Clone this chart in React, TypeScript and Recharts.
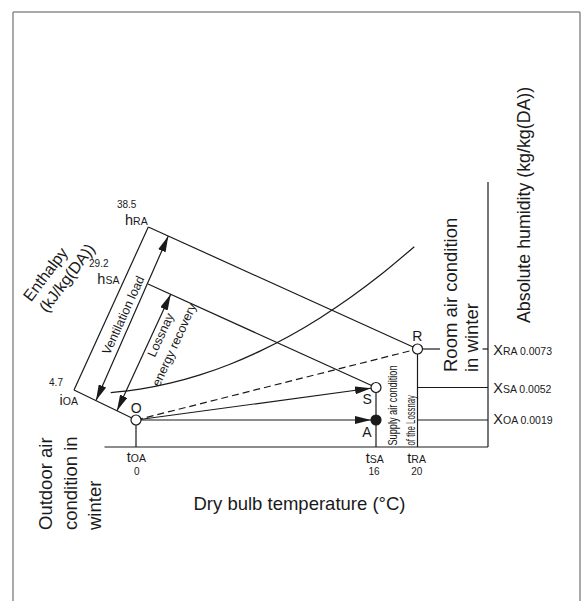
import React from 'react';
import { ComposedChart, XAxis, YAxis, ReferenceLine, Line, Scatter } from 'recharts';

// ---- value labels ----
const temperatureTicks = ['0', '16', '20'];
const temperatureSubs = ['OA', 'SA', 'RA'];
const humiditySubs = ['RA', 'SA', 'OA'];
const humidityValues = ['0.0073', '0.0052', '0.0019'];
const enthalpySubs = ['RA', 'SA', 'OA'];
const enthalpyValues = ['38.5', '29.2', '4.7'];

// ---- schematic positions (diagram grid units, y grows downward) ----
const W = 581;
const H = 601;
const stateNames = ['O', 'S', 'A', 'R'];
const stateXs = [136, 376, 376, 417.5];
const stateYs = [420, 387.5, 420, 349];
const stateFilled = [false, false, true, false];
const pt = (n: string) => {
  const i = stateNames.indexOf(n);
  return { x: stateXs[i], y: stateYs[i] };
};
const O = pt('O');
const S = pt('S');
const A = pt('A');
const R = pt('R');

const baseY = 447;
const baseLeft = 104.5;
const axisX = 488;
const axisTop = 182;
const iOAEnd = { x: 74, y: 390 };
const hRAEnd = { x: 148.3, y: 227 };
const hSAEnd = { x: 148, y: 284 };
const xraGap = [440, 482.5];
const frame = { left: 13, right: 580, top: 12, bottom: 601 };

// saturation curve (schematic)
const curveX = [110.7, 140, 170, 200, 230, 260, 290, 320, 350, 380, 414.3];
const curveY = [392.7, 389.2, 383.2, 374.9, 364.2, 351.1, 335.7, 317.9, 297.8, 275.3, 246.7];
const curve = curveX.map((x, i) => ({ x, y: curveY[i] }));

type Pt = { x: number; y: number };
const frameSegments: [Pt, Pt][] = [
  [{ x: frame.left, y: frame.top }, { x: frame.right, y: frame.top }],
  [{ x: frame.left, y: frame.top }, { x: frame.left, y: frame.bottom }],
  [{ x: frame.right, y: frame.top }, { x: frame.right, y: frame.bottom }],
];
const solidSegments: [Pt, Pt][] = [
  [{ x: baseLeft, y: baseY }, { x: axisX, y: baseY }],
  [{ x: axisX, y: axisTop }, { x: axisX, y: baseY }],
  [O, { x: O.x, y: baseY }],
  [S, { x: S.x, y: baseY }],
  [R, { x: R.x, y: baseY }],
  [{ x: R.x, y: S.y }, { x: axisX, y: S.y }],
  [{ x: R.x, y: A.y }, { x: axisX, y: A.y }],
  [R, { x: xraGap[0], y: R.y }],
  [{ x: xraGap[1], y: R.y }, { x: axisX, y: R.y }],
  [iOAEnd, hRAEnd],
  [hRAEnd, R],
  [hSAEnd, S],
  [iOAEnd, O],
];
const toDotArrows: [Pt, Pt][] = [
  [O, A],
  [O, S],
];
const doubleArrows: [Pt, Pt][] = [
  [{ x: 96, y: 400.6 }, { x: 168.3, y: 236.1 }],
  [{ x: 117, y: 410.8 }, { x: 170.7, y: 294.3 }],
];
const dashedSegments: [Pt, Pt][] = [[O, R]];

const labels = [
  { kind: 'num', x: 126.7, y: 208.3, text: enthalpyValues[0] },
  { kind: 'sym', x: 125, y: 225, main: 'h', sub: enthalpySubs[0] },
  { kind: 'num', x: 98.8, y: 267.3, text: enthalpyValues[1] },
  { kind: 'sym', x: 97.3, y: 283.5, main: 'h', sub: enthalpySubs[1] },
  { kind: 'num', x: 56, y: 386, text: enthalpyValues[2] },
  { kind: 'sym', x: 59.5, y: 405, main: 'i', sub: enthalpySubs[2] },
  { kind: 'sym', x: 126.7, y: 461.7, main: 't', sub: temperatureSubs[0] },
  { kind: 'num', x: 136.7, y: 475, text: temperatureTicks[0] },
  { kind: 'sym', x: 365.7, y: 462.7, main: 't', sub: temperatureSubs[1] },
  { kind: 'num', x: 374, y: 475, text: temperatureTicks[1] },
  { kind: 'sym', x: 407.3, y: 462.7, main: 't', sub: temperatureSubs[2] },
  { kind: 'num', x: 416.7, y: 475, text: temperatureTicks[2] },
  { kind: 'sym', x: 493.3, y: 355, main: 'X', sub: humiditySubs[0] + ' ' + humidityValues[0] },
  { kind: 'sym', x: 493.3, y: 393.3, main: 'X', sub: humiditySubs[1] + ' ' + humidityValues[1] },
  { kind: 'sym', x: 493.3, y: 424.3, main: 'X', sub: humiditySubs[2] + ' ' + humidityValues[2] },
  { kind: 'pt', x: 136.2, y: 412.7, text: 'O' },
  { kind: 'pt', x: 417.3, y: 340.7, text: 'R' },
  { kind: 'pt', x: 367.2, y: 404, text: 'S' },
  { kind: 'pt', x: 367, y: 437.3, text: 'A' },
  { kind: 'title', x: 299.5, y: 510, text: 'Dry bulb temperature (°C)' },
  { kind: 'v', x: 52, y: 530, text: 'Outdoor air' },
  { kind: 'v', x: 77, y: 530, text: 'condition in' },
  { kind: 'v', x: 101, y: 530, text: 'winter' },
  { kind: 'v', x: 456.5, y: 372, text: 'Room air condition' },
  { kind: 'v', x: 477.5, y: 372, text: 'in winter' },
  { kind: 'vs', x: 530, y: 323, text: 'Absolute humidity (kg/kg(DA))' },
  { kind: 'narrow', x: 396.5, y: 445.5, text: 'Supply air condition' },
  { kind: 'narrow', x: 415, y: 445.5, text: 'of the Lossnay' },
  { kind: 'diag', x: 127.1, y: 316.9, text: 'Ventilation load' },
  { kind: 'diag', x: 164.5, y: 336.7, text: 'Lossnay' },
  { kind: 'diag', x: 178, y: 346.7, text: 'energy recovery' },
  { kind: 'enth', x: 31, y: 302.5, text: 'Enthalpy' },
  { kind: 'enth', x: 47, y: 313.5, text: '(kJ/kg(DA))' },
];

const states = stateNames.map((n, i) => ({ x: stateXs[i], y: stateYs[i], filled: stateFilled[i] }));

// ---- styles ----
const INK = '#1a1a1a';
const LW = 1.2;
const FONT = '"Liberation Sans", Arial, Helvetica, sans-serif';
const narrowLengths: Record<string, number> = { 'Supply air condition': 80, 'of the Lossnay': 50.5 };

function LabelShape(props: any) {
  const { cx, cy } = props;
  const d = props.payload || props;
  const base = { fill: INK, fontFamily: FONT };
  switch (d.kind) {
    case 'sym':
      return (
        <text x={cx} y={cy} fontSize={14.5} textAnchor="start" {...base}>
          {d.main}
          <tspan fontSize={10.5}>{d.sub}</tspan>
        </text>
      );
    case 'num':
      return (
        <text x={cx} y={cy} fontSize={10} textAnchor="middle" {...base}>
          {d.text}
        </text>
      );
    case 'pt':
      return (
        <text x={cx} y={cy} fontSize={14} textAnchor="middle" {...base}>
          {d.text}
        </text>
      );
    case 'title':
      return (
        <text x={cx} y={cy} fontSize={18.5} textAnchor="middle" {...base}>
          {d.text}
        </text>
      );
    case 'v':
    case 'vs':
      return (
        <text
          x={cx}
          y={cy}
          fontSize={d.kind === 'vs' ? 17.8 : 18.5}
          textAnchor="start"
          transform={`rotate(-90 ${cx} ${cy})`}
          {...base}
        >
          {d.text}
        </text>
      );
    case 'narrow':
      return (
        <text
          x={cx}
          y={cy}
          fontSize={12.5}
          textAnchor="start"
          textLength={narrowLengths[d.text]}
          lengthAdjust="spacingAndGlyphs"
          transform={`rotate(-90 ${cx} ${cy})`}
          {...base}
        >
          {d.text}
        </text>
      );
    case 'diag':
      return (
        <text x={cx} y={cy} fontSize={12.5} textAnchor="middle" transform={`rotate(-65.5 ${cx} ${cy})`} {...base}>
          {d.text}
        </text>
      );
    case 'enth':
      return (
        <text x={cx} y={cy} fontSize={16} textAnchor="start" transform={`rotate(-53 ${cx} ${cy})`} {...base}>
          {d.text}
        </text>
      );
    default:
      return <g />;
  }
}

function StateShape(props: any) {
  const { cx, cy } = props;
  const d = props.payload || props;
  return <circle cx={cx} cy={cy} r={5} fill={d.filled ? INK : '#fff'} stroke={INK} strokeWidth={LW} />;
}

const lineShape = (start?: string, end?: string, dash?: string, color: string = INK, width: number = LW) => (p: any) => (
  <line
    x1={p.x1}
    y1={p.y1}
    x2={p.x2}
    y2={p.y2}
    stroke={color}
    strokeWidth={width}
    strokeDasharray={dash}
    markerStart={start}
    markerEnd={end}
  />
);

export default function App() {
  return (
    <div style={{ position: 'absolute', left: 0, top: 0, width: W, height: H, background: '#fff' }}>
      <svg width={0} height={0} style={{ position: 'absolute' }}>
        <defs>
          <marker
            id="tip"
            markerUnits="userSpaceOnUse"
            viewBox="0 0 16 8"
            markerWidth={16}
            markerHeight={8}
            refX={16}
            refY={4}
            orient="auto-start-reverse"
          >
            <path d="M0,0 L16,4 L0,8 z" fill={INK} />
          </marker>
          <marker
            id="tipDot"
            markerUnits="userSpaceOnUse"
            viewBox="0 0 21 8"
            markerWidth={21}
            markerHeight={8}
            refX={21}
            refY={4}
            orient="auto"
          >
            <path d="M0,0 L16,4 L0,8 z" fill={INK} />
          </marker>
        </defs>
      </svg>
      <ComposedChart width={W} height={H} margin={{ top: 0, right: 0, bottom: 0, left: 0 }}>
        <XAxis type="number" dataKey="x" domain={[0, W]} hide allowDataOverflow />
        <YAxis type="number" dataKey="y" domain={[0, H]} reversed hide allowDataOverflow />
        {frameSegments.map((s, i) => (
          <ReferenceLine
            key={'f' + i}
            segment={s}
            ifOverflow="visible"
            shape={lineShape(undefined, undefined, undefined, '#8c8c8c', 1.5)}
          />
        ))}
        {solidSegments.map((s, i) => (
          <ReferenceLine key={'s' + i} segment={s} ifOverflow="visible" shape={lineShape()} />
        ))}
        {dashedSegments.map((s, i) => (
          <ReferenceLine key={'d' + i} segment={s} ifOverflow="visible" shape={lineShape(undefined, undefined, '7 4')} />
        ))}
        {toDotArrows.map((s, i) => (
          <ReferenceLine key={'a' + i} segment={s} ifOverflow="visible" shape={lineShape(undefined, 'url(#tipDot)')} />
        ))}
        {doubleArrows.map((s, i) => (
          <ReferenceLine key={'b' + i} segment={s} ifOverflow="visible" shape={lineShape('url(#tip)', 'url(#tip)')} />
        ))}
        <Line
          data={curve}
          dataKey="y"
          type="monotone"
          dot={false}
          stroke={INK}
          strokeWidth={LW}
          isAnimationActive={false}
        />
        <Scatter data={states} shape={StateShape} isAnimationActive={false} />
        <Scatter data={labels} shape={LabelShape} isAnimationActive={false} />
      </ComposedChart>
    </div>
  );
}
